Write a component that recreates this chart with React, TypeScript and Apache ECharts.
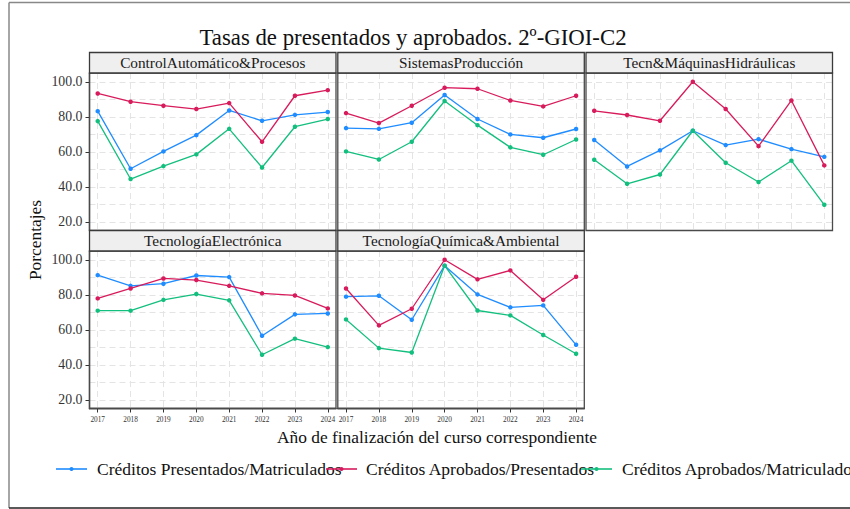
import React, { useEffect, useRef } from 'react';
import * as echarts from 'echarts';

const years = [2017, 2018, 2019, 2020, 2021, 2022, 2023, 2024];
const yTicks = [20, 40, 60, 80, 100];
const panelNames = [
  'ControlAutomático&Procesos',
  'SistemasProducción',
  'Tecn&MáquinasHidráulicas',
  'TecnologíaElectrónica',
  'TecnologíaQuímica&Ambiental',
];
const seriesNames = [
  'Créditos Presentados/Matriculados',
  'Créditos Aprobados/Presentados',
  'Créditos Aprobados/Matriculados',
];
const seriesColors = ['#1f8cff', '#d81b5c', '#13bf7e'];

// one row per panel, one value per year
const presentadosMatriculados = [
  [83.2, 50.3, 60.2, 69.5, 83.6, 77.7, 81.1, 82.7],
  [73.5, 73.1, 76.6, 92.4, 78.7, 69.9, 68.0, 73.0],
  [66.7, 51.6, 60.8, 72.0, 63.8, 67.2, 61.5, 57.1],
  [91.2, 85.1, 86.3, 91.0, 90.1, 56.6, 68.8, 69.3],
  [78.9, 79.4, 65.7, 96.6, 80.2, 72.8, 73.9, 51.4],
];
const aprobadosPresentados = [
  [93.3, 88.6, 86.3, 84.4, 87.8, 65.7, 92.0, 95.2],
  [82.1, 76.4, 86.3, 96.6, 96.0, 89.3, 85.9, 92.0],
  [83.4, 81.0, 77.7, 100.0, 84.4, 63.2, 89.3, 52.2],
  [77.9, 83.6, 89.3, 88.4, 85.1, 80.8, 79.6, 72.2],
  [83.6, 62.5, 72.0, 100.0, 88.8, 93.9, 77.1, 90.3],
];
const aprobadosMatriculados = [
  [77.5, 44.4, 51.8, 58.5, 73.1, 51.0, 74.3, 78.7],
  [60.2, 55.6, 65.7, 89.0, 75.2, 62.5, 58.3, 67.0],
  [55.4, 41.7, 47.0, 72.0, 53.7, 42.7, 54.9, 29.7],
  [70.9, 70.9, 77.1, 80.4, 76.8, 45.7, 54.9, 50.1],
  [65.9, 49.5, 47.0, 96.6, 71.0, 68.2, 57.0, 46.3],
];
const seriesData = [presentadosMatriculados, aprobadosPresentados, aprobadosMatriculados];

const FAMILY = 'Liberation Serif';
const FONT = '"Liberation Serif", "Times New Roman", serif';
const panelLeft = [89.5, 337.8, 586, 89.5, 337.8];
const panelTop = [73, 73, 73, 251, 251];
const PW = 246.5;
const PH = 157.5;
const STRIP_H = 20.5;
const GRID_COLOR = '#e4e4e4';

export default function App() {
  const ref = useRef<HTMLDivElement>(null);
  useEffect(() => {
    document.body.style.margin = '0';
    if (!ref.current) return;
    const chart = echarts.init(ref.current, undefined, { renderer: 'svg' });

    const grids: any[] = [];
    const xAxes: any[] = [];
    const yAxes: any[] = [];
    const series: any[] = [];
    const graphics: any[] = [];

    panelNames.forEach((name, p) => {
      grids.push({
        left: panelLeft[p], top: panelTop[p], width: PW, height: PH,
        show: true, backgroundColor: '#fff', borderWidth: 0,
        outerBoundsMode: 'none',
      });
      const bottomRow = p >= 3;
      const leftCol = p === 0 || p === 3;
      // primary x axis (index 2p)
      xAxes.push({
        type: 'value', gridIndex: p, min: 2016.75, max: 2024.25,
        splitLine: { show: false },
        axisLine: { show: bottomRow, onZero: false, lineStyle: { color: '#111', width: 1.3 } },
        axisTick: { show: bottomRow, customValues: years, length: 4, lineStyle: { color: '#333', width: 1 } },
        axisLabel: {
          show: bottomRow, customValues: years, formatter: (v: number) => String(v),
          fontFamily: FAMILY, fontSize: 7.3, color: '#333', margin: 7,
        },
      });
      // secondary x axis for grid lines (index 2p+1)
      xAxes.push({
        type: 'value', gridIndex: p, min: 2016.75, max: 2024.25, interval: 0.25,
        axisLine: { show: false }, axisTick: { show: false }, axisLabel: { show: false },
        splitLine: { show: true, lineStyle: { color: ['transparent', GRID_COLOR, 'transparent', 'transparent'], type: [6, 4], width: 1 } },
      });
      yAxes.push({
        type: 'value', gridIndex: p, min: 15, max: 105,
        splitLine: { show: false },
        axisLine: { show: leftCol, lineStyle: { color: '#111', width: 1.3 } },
        axisTick: { show: leftCol, customValues: yTicks, length: 4, lineStyle: { color: '#333', width: 1 } },
        axisLabel: {
          show: leftCol, customValues: yTicks, formatter: (v: number) => v.toFixed(1),
          fontFamily: FAMILY, fontSize: 13.8, color: '#333', margin: 7,
        },
      });
      yAxes.push({
        type: 'value', gridIndex: p, min: 15, max: 105, interval: 5,
        axisLine: { show: false }, axisTick: { show: false }, axisLabel: { show: false },
        splitLine: { show: true, lineStyle: { color: ['transparent', GRID_COLOR], type: [6, 4], width: 1 } },
      });

      seriesNames.forEach((sn, s) => {
        series.push({
          name: sn, type: 'line', xAxisIndex: 2 * p, yAxisIndex: 2 * p,
          data: years.map((yr, i) => [yr, seriesData[s][p][i]]),
          symbol: 'circle', symbolSize: 4.5, showSymbol: true, clip: false,
          lineStyle: { color: seriesColors[s], width: 1.3 },
          itemStyle: { color: seriesColors[s] },
          z: 3 + s,
        });
      });

      // strip
      graphics.push({
        type: 'rect', z: 20,
        shape: { x: panelLeft[p], y: panelTop[p] - STRIP_H, width: PW, height: STRIP_H },
        style: { fill: '#efefef', stroke: '#3a3a3a', lineWidth: 1.3 },
      });
      graphics.push({
        type: 'text', z: 21,
        x: panelLeft[p] + PW / 2, y: panelTop[p] - STRIP_H / 2,
        style: { text: name, fill: '#1a1a1a', font: `15.3px ${FONT}`, textAlign: 'center', textVerticalAlign: 'middle', verticalAlign: 'middle' },
      });
      // panel border
      graphics.push({
        type: 'rect', z: 19,
        shape: { x: panelLeft[p], y: panelTop[p], width: PW, height: PH },
        style: { fill: 'none', stroke: '#4a4a4a', lineWidth: 1.3 },
      });
    });

    // outer frame
    graphics.push({ type: 'line', z: 1, shape: { x1: 9, y1: 2.5, x2: 860, y2: 2.5 }, style: { stroke: '#888', lineWidth: 1.5 } });
    graphics.push({ type: 'line', z: 1, shape: { x1: 9, y1: 2.5, x2: 9, y2: 508 }, style: { stroke: '#888', lineWidth: 1.5 } });
    graphics.push({ type: 'line', z: 1, shape: { x1: 9, y1: 508, x2: 860, y2: 508 }, style: { stroke: '#222', lineWidth: 1.3 } });

    // title and axis titles
    graphics.push({
      type: 'text', z: 21, x: 413, y: 37,
      style: { text: 'Tasas de presentados y aprobados. 2º-GIOI-C2', fill: '#111', font: `22.8px ${FONT}`, textAlign: 'center', textVerticalAlign: 'middle', verticalAlign: 'middle' },
    });
    graphics.push({
      type: 'text', z: 21, x: 35, y: 240, rotation: Math.PI / 2,
      style: { text: 'Porcentajes', fill: '#111', font: `17.4px ${FONT}`, textAlign: 'center', textVerticalAlign: 'middle', verticalAlign: 'middle' },
    });
    graphics.push({
      type: 'text', z: 21, x: 437, y: 437,
      style: { text: 'Año de finalización del curso correspondiente', fill: '#111', font: `17.4px ${FONT}`, textAlign: 'center', textVerticalAlign: 'middle', verticalAlign: 'middle' },
    });

    // legend
    const legendKeyX = [56, 326, 581];
    const legendTextX = [97, 366, 622];
    const LY = 469;
    seriesNames.forEach((sn, s) => {
      graphics.push({ type: 'line', z: 22, shape: { x1: legendKeyX[s], y1: LY, x2: legendKeyX[s] + 31, y2: LY }, style: { stroke: seriesColors[s], lineWidth: 1.6 } });
      graphics.push({ type: 'circle', z: 22, shape: { cx: legendKeyX[s] + 15.5, cy: LY, r: 2 }, style: { fill: seriesColors[s] } });
      graphics.push({
        type: 'text', z: 22, x: legendTextX[s], y: LY,
        style: { text: sn, fill: '#111', font: `17.5px ${FONT}`, textAlign: 'left', textVerticalAlign: 'middle', verticalAlign: 'middle' },
      });
    });

    chart.setOption({
      animation: false,
      backgroundColor: '#fff',
      grid: grids,
      xAxis: xAxes,
      yAxis: yAxes,
      series,
      graphic: { elements: graphics },
    });
    return () => chart.dispose();
  }, []);
  return <div ref={ref} style={{ width: 850, height: 509 }} />;
}
